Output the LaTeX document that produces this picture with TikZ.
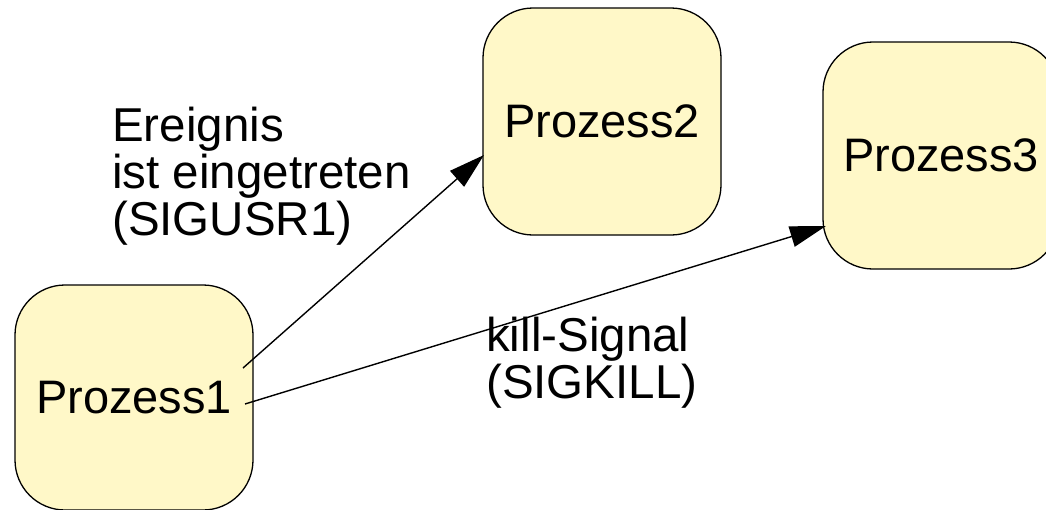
\documentclass[tikz,border=0pt]{standalone}
\usepackage{fontspec}
\setmainfont{Liberation Sans}
\usetikzlibrary{arrows.meta}
\definecolor{procfill}{RGB}{255,248,200}
\tikzset{
  proc/.style={draw=black, line width=1.3pt, fill=procfill, rounded corners=50pt,
    minimum width=238pt, minimum height=227pt, inner sep=0pt,
    font=\fontsize{47}{52}\selectfont},
  lbl/.style={align=left, inner sep=0pt, font=\fontsize{47.5}{47}\selectfont},
  sig/.style={line width=1.4pt, -{Triangle[length=36pt,width=21pt]}}
}
\begin{document}
\begin{tikzpicture}[x=1pt,y=-1pt]
\useasboundingbox (0,0) rectangle (1046,509);
\node[proc, minimum height=225pt] (p1) at (134,397.5) {Prozess1};
\node[proc] (p2) at (602,121.5) {Prozess2};
\node[proc, minimum width=236pt] (p3) at (941,155.5) {Prozess3};
\node[lbl, anchor=north west] (l1) at (112,107) {Ereignis\\ist eingetreten\\(SIGUSR1)};
\node[lbl, anchor=north west] (l2) at (486,317) {kill-Signal\\(SIGKILL)};
\coordinate (s1) at (243,368);
\coordinate (e1) at (484,155);
\coordinate (s2) at (245,404);
\coordinate (e2) at (826,226);
\draw[sig] (s1) -- (e1);
\draw[sig] (s2) -- (e2);
\end{tikzpicture}
\end{document}
